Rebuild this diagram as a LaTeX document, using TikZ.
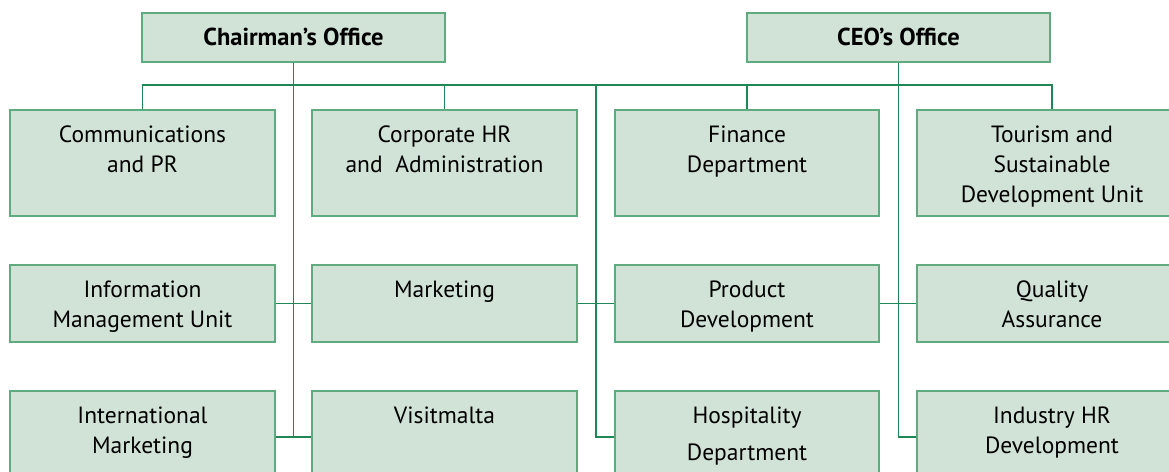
\documentclass[tikz,border=0pt]{standalone}
\usepackage{fontspec}
\setmainfont{PT Sans}
\definecolor{boxfill}{RGB}{209,226,214}
\definecolor{boxline}{RGB}{96,170,128}
\definecolor{conn}{RGB}{30,135,85}
\begin{document}
\begin{tikzpicture}[x=1pt,y=-1pt,
  box/.style={draw=boxline, fill=boxfill, line width=1.8pt, inner sep=0pt},
  wide/.style={minimum width=265pt},
  r1/.style={minimum height=106pt},
  r2/.style={minimum height=77pt},
  r3/.style={minimum height=92pt},
  txt/.style={anchor=north, inner sep=0pt, align=center, font=\fontsize{23.5}{30}\selectfont},
  htxt/.style={txt, font=\fontsize{24.5}{30}\selectfont\bfseries},
  link/.style={draw=conn, line width=1.8pt}]
\useasboundingbox (0,0) rectangle (1169,471);
% top offices
\node[box, minimum width=303pt, minimum height=49pt] (chair) at (293.5,37.5) {};
\node[box, minimum width=303pt, minimum height=49pt] (ceo) at (898.5,37.5) {};
% row 1
\node[box, wide, r1] (c1r1) at (142.5,163) {};
\node[box, wide, r1] (c2r1) at (444.5,163) {};
\node[box, minimum width=264pt, r1] (c3r1) at (747,163) {};
\node[box, minimum width=270pt, r1] (c4r1) at (1052,163) {};
% row 2
\node[box, wide, r2] (c1r2) at (142.5,303.5) {};
\node[box, wide, r2] (c2r2) at (444.5,303.5) {};
\node[box, minimum width=264pt, r2] (c3r2) at (747,303.5) {};
\node[box, minimum width=270pt, r2] (c4r2) at (1052,303.5) {};
% row 3
\node[box, wide, r3] (c1r3) at (142.5,437) {};
\node[box, wide, r3] (c2r3) at (444.5,437) {};
\node[box, minimum width=264pt, r3] (c3r3) at (747,437) {};
\node[box, minimum width=270pt, r3] (c4r3) at (1052,437) {};
% texts
\node[htxt] (tchair) at ([yshift=-12pt]chair.north) {\strut Chairman’s Office};
\node[htxt] (tceo) at ([yshift=-12pt]ceo.north) {\strut CEO’s Office};
\node[txt] (t11) at ([yshift=-12pt]c1r1.north) {\strut Communications\\and PR};
\node[txt] (t21) at ([yshift=-12pt]c2r1.north) {\strut Corporate HR\\and \ Administration};
\node[txt] (t31) at ([yshift=-12pt]c3r1.north) {\strut Finance\\Department};
\node[txt] (t41) at ([yshift=-12pt]c4r1.north) {\strut Tourism and\\Sustainable\\Development Unit};
\node[txt] (t12) at ([yshift=-12pt]c1r2.north) {\strut Information\\Management Unit};
\node[txt] (t22) at ([yshift=-12pt]c2r2.north) {\strut Marketing};
\node[txt] (t32) at ([yshift=-12pt]c3r2.north) {\strut Product\\Development};
\node[txt] (t42) at ([yshift=-12pt]c4r2.north) {\strut Quality\\Assurance};
\node[txt] (t13) at ([yshift=-12pt]c1r3.north) {\strut International\\Marketing};
\node[txt] (t23) at ([yshift=-12pt]c2r3.north) {\strut Visitmalta};
\node[txt] (t33) at ([yshift=-12pt]c3r3.north) {\strut Hospitality\\[7pt]Department};
\node[txt] (t43) at ([yshift=-12pt]c4r3.north) {\strut Industry HR\\Development};
% connectors
\coordinate (bus) at (0,85);
\coordinate (mid) at (596,85);
\draw[link] (c1r1.north) -- (c1r1.north |- bus) -- (c4r1.north |- bus) -- (c4r1.north);
\draw[link] (c2r1.north) -- (c2r1.north |- bus);
\draw[link] (c3r1.north) -- (c3r1.north |- bus);
\draw[link] (chair.south) -- (chair.south |- c1r3.east);
\draw[link] (ceo.south) -- (ceo.south |- c4r3.west) -- (c4r3.west);
\draw[link] (mid) |- (c3r3.west);
\draw[link] (c1r2.east) -- (c2r2.west);
\draw[link] (c2r2.east) -- (c3r2.west);
\draw[link] (c3r2.east) -- (c4r2.west);
\draw[link] (c1r3.east) -- (c2r3.west);
\end{tikzpicture}
\end{document}
